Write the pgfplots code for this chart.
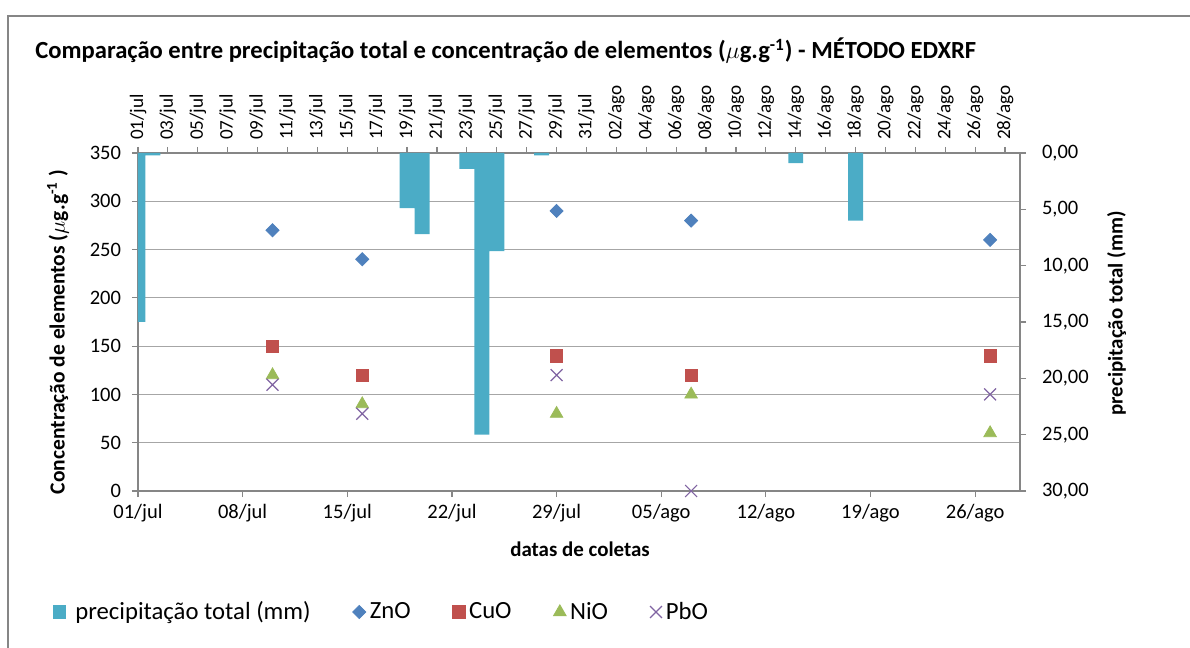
\documentclass[border=0pt]{standalone}
\usepackage{fontspec}
\setmainfont{Carlito}
\usepackage{pgfplots}
\pgfplotsset{compat=1.18}
\definecolor{barc}{RGB}{75,172,198}
\definecolor{znoc}{RGB}{79,129,189}
\definecolor{cuoc}{RGB}{192,80,77}
\definecolor{nioc}{RGB}{155,187,89}
\definecolor{pboc}{RGB}{128,100,162}
\definecolor{axc}{RGB}{134,134,134}
\definecolor{gridc}{RGB}{166,166,166}
\newcommand{\tickfont}{\fontsize{10.3}{12}\selectfont}
\begin{document}
\begin{tikzpicture}
\useasboundingbox (0,0) rectangle (595bp,324bp);
% frame of the chart area
\draw[axc,line width=1bp] (3.8bp,-5bp) -- (3.8bp,316bp) -- (600bp,316bp);
\node[anchor=base west,inner sep=0pt,font=\fontsize{12.35}{14}\selectfont\bfseries] at (17.5bp,294.5bp)
  {Comparação entre precipitação total e concentração de elementos ($\mu$g.g\textsuperscript{-1}) - MÉTODO EDXRF};

% concentrations (left axis, dates)
\begin{axis}[at={(69bp,78.5bp)},anchor=south west,scale only axis,
  width=441bp,height=169bp,
  xmin=0,xmax=59,ymin=0,ymax=350,
  axis x line*=bottom,axis y line*=left,
  axis line style={axc,line width=0.6bp},
  tick style={axc,line width=0.6bp},
  tick align=outside,major tick length=3bp,
  xtick={0,7,...,56},
  xticklabels={01/jul,08/jul,15/jul,22/jul,29/jul,05/ago,12/ago,19/ago,26/ago},
  ytick={0,50,...,350},
  ymajorgrids,grid style={gridc,line width=0.6bp},
  ticklabel style={font=\tickfont},
  yticklabel style={xshift=-2bp},
  /pgf/number format/assume math mode=true,
  legend style={draw=none,fill=none,font=\fontsize{12.4}{14}\selectfont,
    at={(-0.11,-0.358)},anchor=west,legend columns=-1,
    nodes={inner xsep=2bp},
    /tikz/every even column/.append style={column sep=19bp}},
  legend cell align=left]
\addlegendimage{legend image code/.code={\fill[barc] (3bp,-3.3bp) rectangle (9bp,3.3bp);\path[draw=none,fill=none] (0bp,0bp) -- (12bp,0bp);}}
\addlegendentry{precipitação total (mm)}
\addplot[only marks,mark=square*,mark size=2.3bp,mark options={rotate=45,fill=znoc,draw=znoc},znoc]
  coordinates {(9,270) (15,240) (28,290) (37,280) (57,260)};
\addlegendentry{ZnO}
\addplot[only marks,mark=square*,mark size=3.1bp,mark options={fill=cuoc,draw=cuoc},cuoc]
  coordinates {(9,150) (15,120) (28,140) (37,120) (57,140)};
\addlegendentry{CuO}
\addplot[only marks,mark=triangle*,mark size=3.6bp,mark options={fill=nioc,draw=nioc},nioc]
  coordinates {(9,120) (15,90) (28,80) (37,100) (57,60)};
\addlegendentry{NiO}
\addplot[only marks,mark=x,mark size=4.2bp,mark options={draw=pboc,line width=0.6bp},pboc]
  coordinates {(9,110) (15,80) (28,120) (37,0) (57,100)};
\addlegendentry{PbO}
\end{axis}

% precipitation (right axis, reversed, daily categories)
\begin{axis}[at={(69bp,78.5bp)},anchor=south west,scale only axis,
  width=441bp,height=169bp,
  xmin=0,xmax=59,ymin=0,ymax=30,y dir=reverse,
  axis x line*=top,axis y line*=right,
  axis line style={axc,line width=0.6bp},
  tick style={axc,line width=0.6bp},
  tick align=outside,major tick length=3bp,
  xtick={0,2,...,58},
  xticklabels={01/jul,03/jul,05/jul,07/jul,09/jul,11/jul,13/jul,15/jul,17/jul,19/jul,21/jul,23/jul,25/jul,27/jul,29/jul,31/jul,
    02/ago,04/ago,06/ago,08/ago,10/ago,12/ago,14/ago,16/ago,18/ago,20/ago,22/ago,24/ago,26/ago,28/ago},
  xticklabel style={rotate=90,anchor=west,font=\fontsize{9.6}{11}\selectfont},
  ytick={0,5,...,30},
  yticklabel style={font=\tickfont,xshift=4.5bp},
  /pgf/number format/.cd,fixed,fixed zerofill,precision=2,use comma,assume math mode=true,/pgfplots/.cd,
  ]
\addplot[ybar,bar width=1,fill=barc,draw=none] coordinates {
  (0,15.0) (1,0.2) (18,4.9) (19,7.2) (22,1.4) (23,25.0) (24,8.7) (27,0.2) (44,0.9) (48,6.0)};
\end{axis}

\node[rotate=90,font=\fontsize{10.8}{12}\selectfont\bfseries] at (29bp,158bp)
  {Concentração de elementos ($\mu$g.g\textsuperscript{-1} )};
\node[rotate=90,font=\fontsize{10.5}{12}\selectfont\bfseries] at (558.3bp,167.3bp)
  {precipitação total (mm)};
\node[font=\fontsize{10.5}{12}\selectfont\bfseries] at (290bp,49.5bp) {datas de coletas};
\end{tikzpicture}
\end{document}
